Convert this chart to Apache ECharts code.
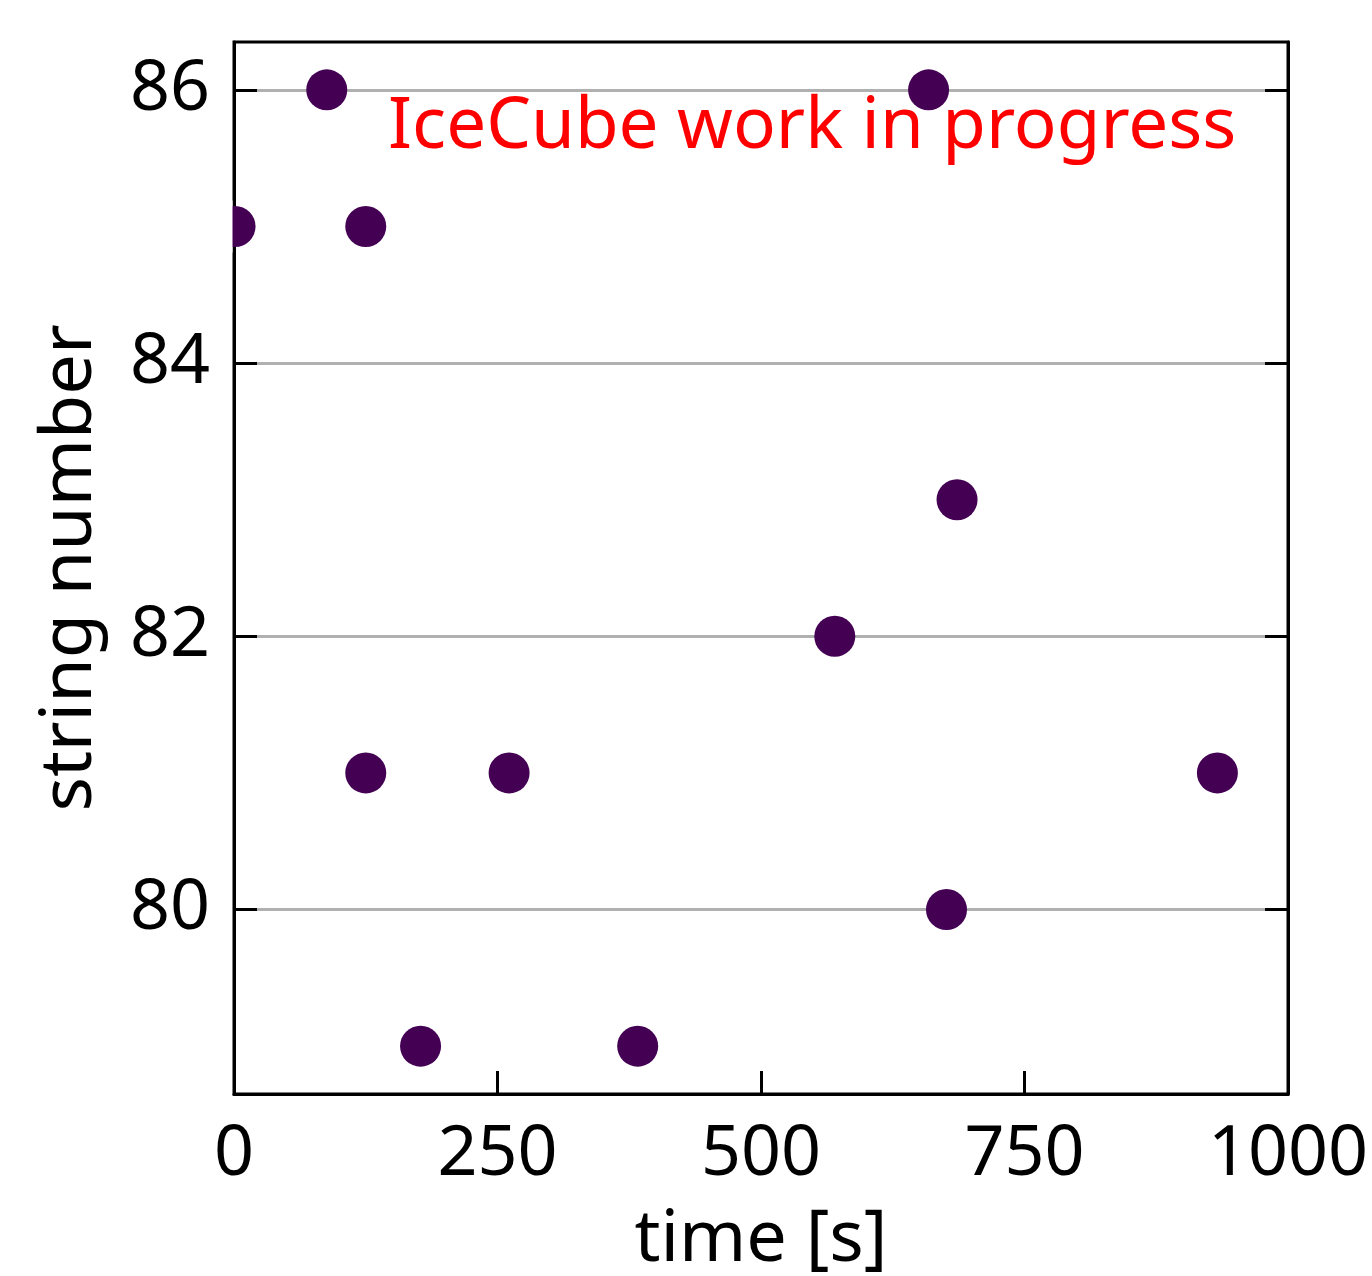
<!DOCTYPE html>
<html>
<head>
<meta charset="utf-8">
<script src="https://cdn.jsdelivr.net/npm/echarts@6/dist/echarts.min.js"></script>
<style>
html,body{margin:0;padding:0;background:#fff;}
#chart{width:1372px;height:1276px;}
</style>
</head>
<body>
<div id="chart"></div>
<script>
// data
const timeValues = [88, 659, 1, 125, 686, 570, 125, 261, 933, 676, 177, 383];
const stringNumbers = [86, 86, 85, 85, 83, 82, 81, 81, 81, 80, 79, 79];
const xTicks = [0, 250, 500, 750, 1000];
const yTicks = [80, 82, 84, 86];
const xLabel = 'time [s]';
const yLabel = 'string number';
const annotation = 'IceCube work in progress';

const FONT = 'Noto Sans';
const points = timeValues.map((t, i) => [t, stringNumbers[i]]);

const chart = echarts.init(document.getElementById('chart'), null, {renderer: 'canvas'});
const tickStyle = {show: true, inside: true, length: 23, lineStyle: {color: '#000', width: 3}};
const annotationGraphic = {
  type: 'text', left: 388, top: 92, z: 10,
  style: {text: annotation, fill: '#ff0000', font: '71px "' + FONT + '"'}
};
const option = {
  animation: false,
  backgroundColor: '#fff',
  grid: {left: 234, right: 84, top: 42, bottom: 182, containLabel: false, outerBoundsMode: 'none',
         show: true, borderColor: '#000', borderWidth: 3, backgroundColor: 'transparent'},
  xAxis: {
    type: 'value', min: 0, max: 1000, interval: 250,
    name: xLabel, nameLocation: 'middle', nameGap: 110,
    nameTextStyle: {fontFamily: FONT, fontSize: 72, color: '#000'},
    axisLine: {show: true, lineStyle: {color: '#000', width: 3}},
    axisTick: Object.assign({customValues: xTicks}, tickStyle),
    axisLabel: {customValues: xTicks, fontFamily: FONT, fontSize: 70, color: '#000', margin: 26,
                formatter: v => String(v)},
    splitLine: {show: false}
  },
  yAxis: [{
    type: 'value', min: 78.65, max: 86.35,
    name: yLabel, nameLocation: 'middle', nameGap: 128,
    nameTextStyle: {fontFamily: FONT, fontSize: 72, color: '#000'},
    axisLine: {show: true, lineStyle: {color: '#000', width: 3}},
    axisTick: Object.assign({customValues: yTicks}, tickStyle),
    axisLabel: {customValues: yTicks, fontFamily: FONT, fontSize: 70, color: '#000', margin: 24,
                formatter: v => String(v)},
    splitLine: {show: true, lineStyle: {color: '#b0b0b0', width: 3}}
  }, {
    type: 'value', min: 78.65, max: 86.35, position: 'right',
    axisLine: {show: true, lineStyle: {color: '#000', width: 3}},
    axisTick: Object.assign({customValues: yTicks}, tickStyle),
    axisLabel: {show: false},
    splitLine: {show: false}
  }],
  series: [{
    type: 'scatter', data: points, symbol: 'circle', symbolSize: 41,
    itemStyle: {color: '#440154', opacity: 1}, z: 2
  }],
  graphic: [annotationGraphic]
};
chart.setOption(option);

// mask marker overflow beyond the left axis (matplotlib clips markers to the axes)
const gridRect = chart.getModel().getComponent('grid').coordinateSystem.getRect();
const masks = points.filter(p => p[0] < 25).map(p => {
  const px = chart.convertToPixel({gridIndex: 0}, p);
  return {
    type: 'rect', z: 5, silent: true,
    shape: {x: gridRect.x - 30, y: px[1] - 26, width: 28.5, height: 52},
    style: {fill: '#fff'}
  };
});
chart.setOption({graphic: [annotationGraphic].concat(masks)});
</script>
</body>
</html>
